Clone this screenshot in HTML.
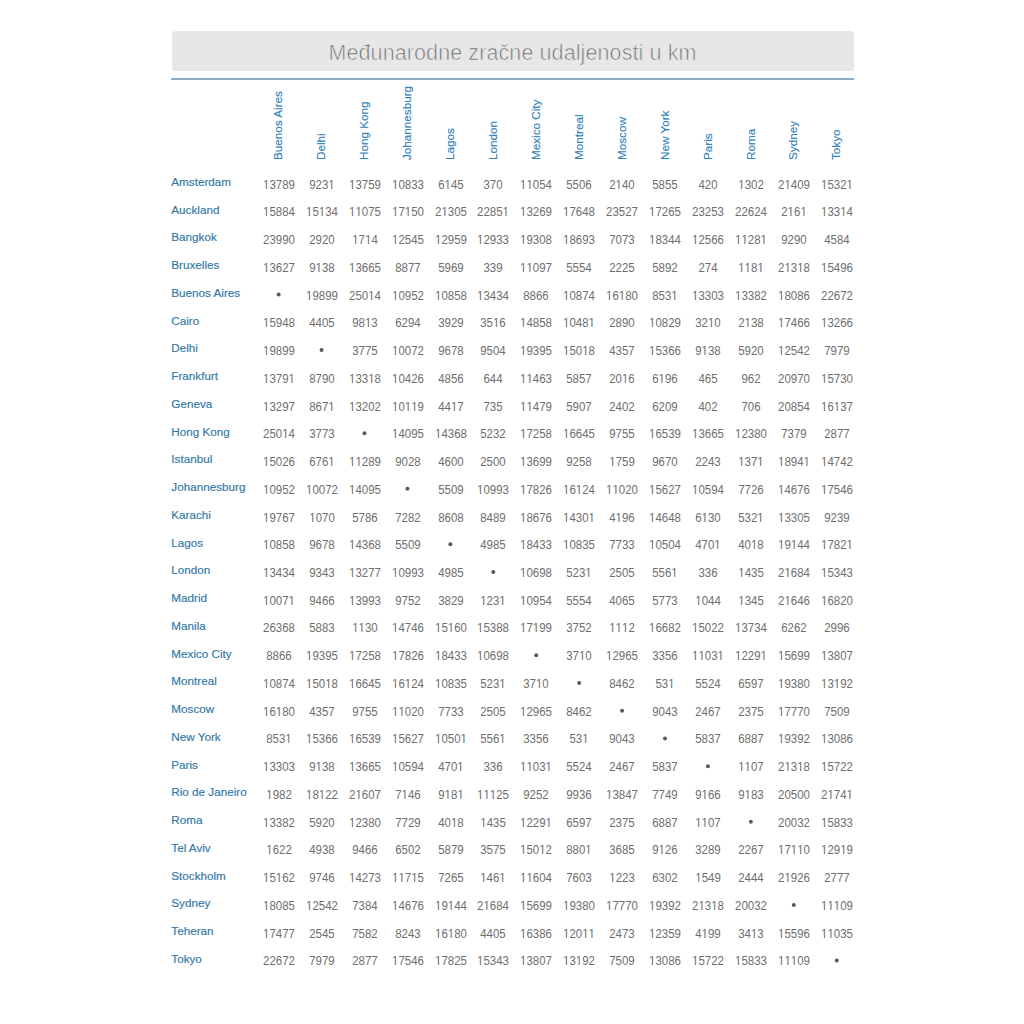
<!DOCTYPE html><html><head><meta charset="utf-8"><style>
html,body{margin:0;padding:0;background:#fff;width:1024px;height:1024px;overflow:hidden;}
body{position:relative;font-family:"Liberation Sans",sans-serif;}
.a{position:absolute;white-space:nowrap;}
.l{position:absolute;white-space:nowrap;font-size:11.70px;line-height:11.70px;color:#2f77a6;transform-origin:0 9.90px;transform:scaleY(1.000);}
.h{position:absolute;white-space:nowrap;font-size:11.70px;line-height:11.70px;color:#3282ba;transform-origin:0 0;transform:rotate(-90deg) translateY(9.90px) scaleY(1.000) translateY(-9.90px);}
.n{position:absolute;white-space:nowrap;font-size:12.00px;line-height:12.00px;color:#6e6e6e;width:60px;text-align:center;transform-origin:50% 0;transform:scaleX(0.9550);}
.n b{font-weight:normal;display:inline-block;clip-path:polygon(-1px -2px,7.674px -2px,7.674px 9.000px,4.078px 9.000px,4.078px 14.000px,3.018px 14.000px,3.018px 9.000px,-1px 9.000px);}
.d{position:absolute;left:0;top:0;width:4.30px;height:4.30px;border-radius:50%;background:#5a5a5a;}
#w{position:absolute;left:0;top:0;width:1024px;height:1024px;}
.l,.h{-webkit-text-stroke:0.15px currentColor;}
</style></head><body><div id="w">
<div class="a" style="left:171.50px;top:31.40px;width:682.00px;height:39.20px;background:#e7e7e7;border-radius:3.5px;"></div>
<div class="a" style="left:171.50px;width:682.00px;top:43.30px;font-size:21.50px;line-height:21.50px;text-align:center;color:#6a6a6a;letter-spacing:0.10px;-webkit-text-stroke:0.7px #e7e7e7;">Međunarodne zračne udaljenosti u km</div>
<div class="a" style="left:171.20px;top:78.00px;width:682.60px;height:1.90px;background:#8badc2;"></div>
<div class="h" style="left:272.30px;top:159.70px;">Buenos Aires</div>
<div class="h" style="left:315.23px;top:159.70px;">Delhi</div>
<div class="h" style="left:358.16px;top:159.70px;">Hong Kong</div>
<div class="h" style="left:401.09px;top:159.70px;">Johannesburg</div>
<div class="h" style="left:444.02px;top:159.70px;">Lagos</div>
<div class="h" style="left:486.95px;top:159.70px;">London</div>
<div class="h" style="left:529.88px;top:159.70px;">Mexico City</div>
<div class="h" style="left:572.81px;top:159.70px;">Montreal</div>
<div class="h" style="left:615.74px;top:159.70px;">Moscow</div>
<div class="h" style="left:658.67px;top:159.70px;">New York</div>
<div class="h" style="left:701.60px;top:159.70px;">Paris</div>
<div class="h" style="left:744.53px;top:159.70px;">Roma</div>
<div class="h" style="left:787.46px;top:159.70px;">Sydney</div>
<div class="h" style="left:830.39px;top:159.70px;">Tokyo</div>
<div class="l" style="left:171.30px;top:176.00px;">Amsterdam</div>
<div class="n" style="left:248.80px;top:179px;"><b>1</b>3789</div>
<div class="n" style="left:291.73px;top:179px;">923<b>1</b></div>
<div class="n" style="left:334.66px;top:179px;"><b>1</b>3759</div>
<div class="n" style="left:377.59px;top:179px;"><b>1</b>0833</div>
<div class="n" style="left:420.52px;top:179px;">6<b>1</b>45</div>
<div class="n" style="left:463.45px;top:179px;">370</div>
<div class="n" style="left:506.38px;top:179px;"><b>1</b><b>1</b>054</div>
<div class="n" style="left:549.31px;top:179px;">5506</div>
<div class="n" style="left:592.24px;top:179px;">2<b>1</b>40</div>
<div class="n" style="left:635.17px;top:179px;">5855</div>
<div class="n" style="left:678.10px;top:179px;">420</div>
<div class="n" style="left:721.03px;top:179px;"><b>1</b>302</div>
<div class="n" style="left:763.96px;top:179px;">2<b>1</b>409</div>
<div class="n" style="left:806.89px;top:179px;"><b>1</b>532<b>1</b></div>
<div class="l" style="left:171.30px;top:203.74px;">Auckland</div>
<div class="n" style="left:248.80px;top:206px;"><b>1</b>5884</div>
<div class="n" style="left:291.73px;top:206px;"><b>1</b>5<b>1</b>34</div>
<div class="n" style="left:334.66px;top:206px;"><b>1</b><b>1</b>075</div>
<div class="n" style="left:377.59px;top:206px;"><b>1</b>7<b>1</b>50</div>
<div class="n" style="left:420.52px;top:206px;">2<b>1</b>305</div>
<div class="n" style="left:463.45px;top:206px;">2285<b>1</b></div>
<div class="n" style="left:506.38px;top:206px;"><b>1</b>3269</div>
<div class="n" style="left:549.31px;top:206px;"><b>1</b>7648</div>
<div class="n" style="left:592.24px;top:206px;">23527</div>
<div class="n" style="left:635.17px;top:206px;"><b>1</b>7265</div>
<div class="n" style="left:678.10px;top:206px;">23253</div>
<div class="n" style="left:721.03px;top:206px;">22624</div>
<div class="n" style="left:763.96px;top:206px;">2<b>1</b>6<b>1</b></div>
<div class="n" style="left:806.89px;top:206px;"><b>1</b>33<b>1</b>4</div>
<div class="l" style="left:171.30px;top:231.48px;">Bangkok</div>
<div class="n" style="left:248.80px;top:234px;">23990</div>
<div class="n" style="left:291.73px;top:234px;">2920</div>
<div class="n" style="left:334.66px;top:234px;"><b>1</b>7<b>1</b>4</div>
<div class="n" style="left:377.59px;top:234px;"><b>1</b>2545</div>
<div class="n" style="left:420.52px;top:234px;"><b>1</b>2959</div>
<div class="n" style="left:463.45px;top:234px;"><b>1</b>2933</div>
<div class="n" style="left:506.38px;top:234px;"><b>1</b>9308</div>
<div class="n" style="left:549.31px;top:234px;"><b>1</b>8693</div>
<div class="n" style="left:592.24px;top:234px;">7073</div>
<div class="n" style="left:635.17px;top:234px;"><b>1</b>8344</div>
<div class="n" style="left:678.10px;top:234px;"><b>1</b>2566</div>
<div class="n" style="left:721.03px;top:234px;"><b>1</b><b>1</b>28<b>1</b></div>
<div class="n" style="left:763.96px;top:234px;">9290</div>
<div class="n" style="left:806.89px;top:234px;">4584</div>
<div class="l" style="left:171.30px;top:259.22px;">Bruxelles</div>
<div class="n" style="left:248.80px;top:262px;"><b>1</b>3627</div>
<div class="n" style="left:291.73px;top:262px;">9<b>1</b>38</div>
<div class="n" style="left:334.66px;top:262px;"><b>1</b>3665</div>
<div class="n" style="left:377.59px;top:262px;">8877</div>
<div class="n" style="left:420.52px;top:262px;">5969</div>
<div class="n" style="left:463.45px;top:262px;">339</div>
<div class="n" style="left:506.38px;top:262px;"><b>1</b><b>1</b>097</div>
<div class="n" style="left:549.31px;top:262px;">5554</div>
<div class="n" style="left:592.24px;top:262px;">2225</div>
<div class="n" style="left:635.17px;top:262px;">5892</div>
<div class="n" style="left:678.10px;top:262px;">274</div>
<div class="n" style="left:721.03px;top:262px;"><b>1</b><b>1</b>8<b>1</b></div>
<div class="n" style="left:763.96px;top:262px;">2<b>1</b>3<b>1</b>8</div>
<div class="n" style="left:806.89px;top:262px;"><b>1</b>5496</div>
<div class="l" style="left:171.30px;top:286.97px;">Buenos Aires</div>
<div class="d" style="transform:translate(276.65px,292.62px);"></div>
<div class="n" style="left:291.73px;top:290px;"><b>1</b>9899</div>
<div class="n" style="left:334.66px;top:290px;">250<b>1</b>4</div>
<div class="n" style="left:377.59px;top:290px;"><b>1</b>0952</div>
<div class="n" style="left:420.52px;top:290px;"><b>1</b>0858</div>
<div class="n" style="left:463.45px;top:290px;"><b>1</b>3434</div>
<div class="n" style="left:506.38px;top:290px;">8866</div>
<div class="n" style="left:549.31px;top:290px;"><b>1</b>0874</div>
<div class="n" style="left:592.24px;top:290px;"><b>1</b>6<b>1</b>80</div>
<div class="n" style="left:635.17px;top:290px;">853<b>1</b></div>
<div class="n" style="left:678.10px;top:290px;"><b>1</b>3303</div>
<div class="n" style="left:721.03px;top:290px;"><b>1</b>3382</div>
<div class="n" style="left:763.96px;top:290px;"><b>1</b>8086</div>
<div class="n" style="left:806.89px;top:290px;">22672</div>
<div class="l" style="left:171.30px;top:314.71px;">Cairo</div>
<div class="n" style="left:248.80px;top:317px;"><b>1</b>5948</div>
<div class="n" style="left:291.73px;top:317px;">4405</div>
<div class="n" style="left:334.66px;top:317px;">98<b>1</b>3</div>
<div class="n" style="left:377.59px;top:317px;">6294</div>
<div class="n" style="left:420.52px;top:317px;">3929</div>
<div class="n" style="left:463.45px;top:317px;">35<b>1</b>6</div>
<div class="n" style="left:506.38px;top:317px;"><b>1</b>4858</div>
<div class="n" style="left:549.31px;top:317px;"><b>1</b>048<b>1</b></div>
<div class="n" style="left:592.24px;top:317px;">2890</div>
<div class="n" style="left:635.17px;top:317px;"><b>1</b>0829</div>
<div class="n" style="left:678.10px;top:317px;">32<b>1</b>0</div>
<div class="n" style="left:721.03px;top:317px;">2<b>1</b>38</div>
<div class="n" style="left:763.96px;top:317px;"><b>1</b>7466</div>
<div class="n" style="left:806.89px;top:317px;"><b>1</b>3266</div>
<div class="l" style="left:171.30px;top:342.45px;">Delhi</div>
<div class="n" style="left:248.80px;top:345px;"><b>1</b>9899</div>
<div class="d" style="transform:translate(319.58px,348.11px);"></div>
<div class="n" style="left:334.66px;top:345px;">3775</div>
<div class="n" style="left:377.59px;top:345px;"><b>1</b>0072</div>
<div class="n" style="left:420.52px;top:345px;">9678</div>
<div class="n" style="left:463.45px;top:345px;">9504</div>
<div class="n" style="left:506.38px;top:345px;"><b>1</b>9395</div>
<div class="n" style="left:549.31px;top:345px;"><b>1</b>50<b>1</b>8</div>
<div class="n" style="left:592.24px;top:345px;">4357</div>
<div class="n" style="left:635.17px;top:345px;"><b>1</b>5366</div>
<div class="n" style="left:678.10px;top:345px;">9<b>1</b>38</div>
<div class="n" style="left:721.03px;top:345px;">5920</div>
<div class="n" style="left:763.96px;top:345px;"><b>1</b>2542</div>
<div class="n" style="left:806.89px;top:345px;">7979</div>
<div class="l" style="left:171.30px;top:370.20px;">Frankfurt</div>
<div class="n" style="left:248.80px;top:373px;"><b>1</b>379<b>1</b></div>
<div class="n" style="left:291.73px;top:373px;">8790</div>
<div class="n" style="left:334.66px;top:373px;"><b>1</b>33<b>1</b>8</div>
<div class="n" style="left:377.59px;top:373px;"><b>1</b>0426</div>
<div class="n" style="left:420.52px;top:373px;">4856</div>
<div class="n" style="left:463.45px;top:373px;">644</div>
<div class="n" style="left:506.38px;top:373px;"><b>1</b><b>1</b>463</div>
<div class="n" style="left:549.31px;top:373px;">5857</div>
<div class="n" style="left:592.24px;top:373px;">20<b>1</b>6</div>
<div class="n" style="left:635.17px;top:373px;">6<b>1</b>96</div>
<div class="n" style="left:678.10px;top:373px;">465</div>
<div class="n" style="left:721.03px;top:373px;">962</div>
<div class="n" style="left:763.96px;top:373px;">20970</div>
<div class="n" style="left:806.89px;top:373px;"><b>1</b>5730</div>
<div class="l" style="left:171.30px;top:397.94px;">Geneva</div>
<div class="n" style="left:248.80px;top:401px;"><b>1</b>3297</div>
<div class="n" style="left:291.73px;top:401px;">867<b>1</b></div>
<div class="n" style="left:334.66px;top:401px;"><b>1</b>3202</div>
<div class="n" style="left:377.59px;top:401px;"><b>1</b>0<b>1</b><b>1</b>9</div>
<div class="n" style="left:420.52px;top:401px;">44<b>1</b>7</div>
<div class="n" style="left:463.45px;top:401px;">735</div>
<div class="n" style="left:506.38px;top:401px;"><b>1</b><b>1</b>479</div>
<div class="n" style="left:549.31px;top:401px;">5907</div>
<div class="n" style="left:592.24px;top:401px;">2402</div>
<div class="n" style="left:635.17px;top:401px;">6209</div>
<div class="n" style="left:678.10px;top:401px;">402</div>
<div class="n" style="left:721.03px;top:401px;">706</div>
<div class="n" style="left:763.96px;top:401px;">20854</div>
<div class="n" style="left:806.89px;top:401px;"><b>1</b>6<b>1</b>37</div>
<div class="l" style="left:171.30px;top:425.68px;">Hong Kong</div>
<div class="n" style="left:248.80px;top:428px;">250<b>1</b>4</div>
<div class="n" style="left:291.73px;top:428px;">3773</div>
<div class="d" style="transform:translate(362.51px,431.34px);"></div>
<div class="n" style="left:377.59px;top:428px;"><b>1</b>4095</div>
<div class="n" style="left:420.52px;top:428px;"><b>1</b>4368</div>
<div class="n" style="left:463.45px;top:428px;">5232</div>
<div class="n" style="left:506.38px;top:428px;"><b>1</b>7258</div>
<div class="n" style="left:549.31px;top:428px;"><b>1</b>6645</div>
<div class="n" style="left:592.24px;top:428px;">9755</div>
<div class="n" style="left:635.17px;top:428px;"><b>1</b>6539</div>
<div class="n" style="left:678.10px;top:428px;"><b>1</b>3665</div>
<div class="n" style="left:721.03px;top:428px;"><b>1</b>2380</div>
<div class="n" style="left:763.96px;top:428px;">7379</div>
<div class="n" style="left:806.89px;top:428px;">2877</div>
<div class="l" style="left:171.30px;top:453.43px;">Istanbul</div>
<div class="n" style="left:248.80px;top:456px;"><b>1</b>5026</div>
<div class="n" style="left:291.73px;top:456px;">676<b>1</b></div>
<div class="n" style="left:334.66px;top:456px;"><b>1</b><b>1</b>289</div>
<div class="n" style="left:377.59px;top:456px;">9028</div>
<div class="n" style="left:420.52px;top:456px;">4600</div>
<div class="n" style="left:463.45px;top:456px;">2500</div>
<div class="n" style="left:506.38px;top:456px;"><b>1</b>3699</div>
<div class="n" style="left:549.31px;top:456px;">9258</div>
<div class="n" style="left:592.24px;top:456px;"><b>1</b>759</div>
<div class="n" style="left:635.17px;top:456px;">9670</div>
<div class="n" style="left:678.10px;top:456px;">2243</div>
<div class="n" style="left:721.03px;top:456px;"><b>1</b>37<b>1</b></div>
<div class="n" style="left:763.96px;top:456px;"><b>1</b>894<b>1</b></div>
<div class="n" style="left:806.89px;top:456px;"><b>1</b>4742</div>
<div class="l" style="left:171.30px;top:481.17px;">Johannesburg</div>
<div class="n" style="left:248.80px;top:484px;"><b>1</b>0952</div>
<div class="n" style="left:291.73px;top:484px;"><b>1</b>0072</div>
<div class="n" style="left:334.66px;top:484px;"><b>1</b>4095</div>
<div class="d" style="transform:translate(405.44px,486.82px);"></div>
<div class="n" style="left:420.52px;top:484px;">5509</div>
<div class="n" style="left:463.45px;top:484px;"><b>1</b>0993</div>
<div class="n" style="left:506.38px;top:484px;"><b>1</b>7826</div>
<div class="n" style="left:549.31px;top:484px;"><b>1</b>6<b>1</b>24</div>
<div class="n" style="left:592.24px;top:484px;"><b>1</b><b>1</b>020</div>
<div class="n" style="left:635.17px;top:484px;"><b>1</b>5627</div>
<div class="n" style="left:678.10px;top:484px;"><b>1</b>0594</div>
<div class="n" style="left:721.03px;top:484px;">7726</div>
<div class="n" style="left:763.96px;top:484px;"><b>1</b>4676</div>
<div class="n" style="left:806.89px;top:484px;"><b>1</b>7546</div>
<div class="l" style="left:171.30px;top:508.91px;">Karachi</div>
<div class="n" style="left:248.80px;top:512px;"><b>1</b>9767</div>
<div class="n" style="left:291.73px;top:512px;"><b>1</b>070</div>
<div class="n" style="left:334.66px;top:512px;">5786</div>
<div class="n" style="left:377.59px;top:512px;">7282</div>
<div class="n" style="left:420.52px;top:512px;">8608</div>
<div class="n" style="left:463.45px;top:512px;">8489</div>
<div class="n" style="left:506.38px;top:512px;"><b>1</b>8676</div>
<div class="n" style="left:549.31px;top:512px;"><b>1</b>430<b>1</b></div>
<div class="n" style="left:592.24px;top:512px;">4<b>1</b>96</div>
<div class="n" style="left:635.17px;top:512px;"><b>1</b>4648</div>
<div class="n" style="left:678.10px;top:512px;">6<b>1</b>30</div>
<div class="n" style="left:721.03px;top:512px;">532<b>1</b></div>
<div class="n" style="left:763.96px;top:512px;"><b>1</b>3305</div>
<div class="n" style="left:806.89px;top:512px;">9239</div>
<div class="l" style="left:171.30px;top:536.65px;">Lagos</div>
<div class="n" style="left:248.80px;top:539px;"><b>1</b>0858</div>
<div class="n" style="left:291.73px;top:539px;">9678</div>
<div class="n" style="left:334.66px;top:539px;"><b>1</b>4368</div>
<div class="n" style="left:377.59px;top:539px;">5509</div>
<div class="d" style="transform:translate(448.37px,542.31px);"></div>
<div class="n" style="left:463.45px;top:539px;">4985</div>
<div class="n" style="left:506.38px;top:539px;"><b>1</b>8433</div>
<div class="n" style="left:549.31px;top:539px;"><b>1</b>0835</div>
<div class="n" style="left:592.24px;top:539px;">7733</div>
<div class="n" style="left:635.17px;top:539px;"><b>1</b>0504</div>
<div class="n" style="left:678.10px;top:539px;">470<b>1</b></div>
<div class="n" style="left:721.03px;top:539px;">40<b>1</b>8</div>
<div class="n" style="left:763.96px;top:539px;"><b>1</b>9<b>1</b>44</div>
<div class="n" style="left:806.89px;top:539px;"><b>1</b>782<b>1</b></div>
<div class="l" style="left:171.30px;top:564.40px;">London</div>
<div class="n" style="left:248.80px;top:567px;"><b>1</b>3434</div>
<div class="n" style="left:291.73px;top:567px;">9343</div>
<div class="n" style="left:334.66px;top:567px;"><b>1</b>3277</div>
<div class="n" style="left:377.59px;top:567px;"><b>1</b>0993</div>
<div class="n" style="left:420.52px;top:567px;">4985</div>
<div class="d" style="transform:translate(491.30px,570.05px);"></div>
<div class="n" style="left:506.38px;top:567px;"><b>1</b>0698</div>
<div class="n" style="left:549.31px;top:567px;">523<b>1</b></div>
<div class="n" style="left:592.24px;top:567px;">2505</div>
<div class="n" style="left:635.17px;top:567px;">556<b>1</b></div>
<div class="n" style="left:678.10px;top:567px;">336</div>
<div class="n" style="left:721.03px;top:567px;"><b>1</b>435</div>
<div class="n" style="left:763.96px;top:567px;">2<b>1</b>684</div>
<div class="n" style="left:806.89px;top:567px;"><b>1</b>5343</div>
<div class="l" style="left:171.30px;top:592.14px;">Madrid</div>
<div class="n" style="left:248.80px;top:595px;"><b>1</b>007<b>1</b></div>
<div class="n" style="left:291.73px;top:595px;">9466</div>
<div class="n" style="left:334.66px;top:595px;"><b>1</b>3993</div>
<div class="n" style="left:377.59px;top:595px;">9752</div>
<div class="n" style="left:420.52px;top:595px;">3829</div>
<div class="n" style="left:463.45px;top:595px;"><b>1</b>23<b>1</b></div>
<div class="n" style="left:506.38px;top:595px;"><b>1</b>0954</div>
<div class="n" style="left:549.31px;top:595px;">5554</div>
<div class="n" style="left:592.24px;top:595px;">4065</div>
<div class="n" style="left:635.17px;top:595px;">5773</div>
<div class="n" style="left:678.10px;top:595px;"><b>1</b>044</div>
<div class="n" style="left:721.03px;top:595px;"><b>1</b>345</div>
<div class="n" style="left:763.96px;top:595px;">2<b>1</b>646</div>
<div class="n" style="left:806.89px;top:595px;"><b>1</b>6820</div>
<div class="l" style="left:171.30px;top:619.88px;">Manila</div>
<div class="n" style="left:248.80px;top:622px;">26368</div>
<div class="n" style="left:291.73px;top:622px;">5883</div>
<div class="n" style="left:334.66px;top:622px;"><b>1</b><b>1</b>30</div>
<div class="n" style="left:377.59px;top:622px;"><b>1</b>4746</div>
<div class="n" style="left:420.52px;top:622px;"><b>1</b>5<b>1</b>60</div>
<div class="n" style="left:463.45px;top:622px;"><b>1</b>5388</div>
<div class="n" style="left:506.38px;top:622px;"><b>1</b>7<b>1</b>99</div>
<div class="n" style="left:549.31px;top:622px;">3752</div>
<div class="n" style="left:592.24px;top:622px;"><b>1</b><b>1</b><b>1</b>2</div>
<div class="n" style="left:635.17px;top:622px;"><b>1</b>6682</div>
<div class="n" style="left:678.10px;top:622px;"><b>1</b>5022</div>
<div class="n" style="left:721.03px;top:622px;"><b>1</b>3734</div>
<div class="n" style="left:763.96px;top:622px;">6262</div>
<div class="n" style="left:806.89px;top:622px;">2996</div>
<div class="l" style="left:171.30px;top:647.63px;">Mexico City</div>
<div class="n" style="left:248.80px;top:650px;">8866</div>
<div class="n" style="left:291.73px;top:650px;"><b>1</b>9395</div>
<div class="n" style="left:334.66px;top:650px;"><b>1</b>7258</div>
<div class="n" style="left:377.59px;top:650px;"><b>1</b>7826</div>
<div class="n" style="left:420.52px;top:650px;"><b>1</b>8433</div>
<div class="n" style="left:463.45px;top:650px;"><b>1</b>0698</div>
<div class="d" style="transform:translate(534.23px,653.28px);"></div>
<div class="n" style="left:549.31px;top:650px;">37<b>1</b>0</div>
<div class="n" style="left:592.24px;top:650px;"><b>1</b>2965</div>
<div class="n" style="left:635.17px;top:650px;">3356</div>
<div class="n" style="left:678.10px;top:650px;"><b>1</b><b>1</b>03<b>1</b></div>
<div class="n" style="left:721.03px;top:650px;"><b>1</b>229<b>1</b></div>
<div class="n" style="left:763.96px;top:650px;"><b>1</b>5699</div>
<div class="n" style="left:806.89px;top:650px;"><b>1</b>3807</div>
<div class="l" style="left:171.30px;top:675.37px;">Montreal</div>
<div class="n" style="left:248.80px;top:678px;"><b>1</b>0874</div>
<div class="n" style="left:291.73px;top:678px;"><b>1</b>50<b>1</b>8</div>
<div class="n" style="left:334.66px;top:678px;"><b>1</b>6645</div>
<div class="n" style="left:377.59px;top:678px;"><b>1</b>6<b>1</b>24</div>
<div class="n" style="left:420.52px;top:678px;"><b>1</b>0835</div>
<div class="n" style="left:463.45px;top:678px;">523<b>1</b></div>
<div class="n" style="left:506.38px;top:678px;">37<b>1</b>0</div>
<div class="d" style="transform:translate(577.16px,681.02px);"></div>
<div class="n" style="left:592.24px;top:678px;">8462</div>
<div class="n" style="left:635.17px;top:678px;">53<b>1</b></div>
<div class="n" style="left:678.10px;top:678px;">5524</div>
<div class="n" style="left:721.03px;top:678px;">6597</div>
<div class="n" style="left:763.96px;top:678px;"><b>1</b>9380</div>
<div class="n" style="left:806.89px;top:678px;"><b>1</b>3<b>1</b>92</div>
<div class="l" style="left:171.30px;top:703.11px;">Moscow</div>
<div class="n" style="left:248.80px;top:706px;"><b>1</b>6<b>1</b>80</div>
<div class="n" style="left:291.73px;top:706px;">4357</div>
<div class="n" style="left:334.66px;top:706px;">9755</div>
<div class="n" style="left:377.59px;top:706px;"><b>1</b><b>1</b>020</div>
<div class="n" style="left:420.52px;top:706px;">7733</div>
<div class="n" style="left:463.45px;top:706px;">2505</div>
<div class="n" style="left:506.38px;top:706px;"><b>1</b>2965</div>
<div class="n" style="left:549.31px;top:706px;">8462</div>
<div class="d" style="transform:translate(620.09px,708.77px);"></div>
<div class="n" style="left:635.17px;top:706px;">9043</div>
<div class="n" style="left:678.10px;top:706px;">2467</div>
<div class="n" style="left:721.03px;top:706px;">2375</div>
<div class="n" style="left:763.96px;top:706px;"><b>1</b>7770</div>
<div class="n" style="left:806.89px;top:706px;">7509</div>
<div class="l" style="left:171.30px;top:730.86px;">New York</div>
<div class="n" style="left:248.80px;top:733px;">853<b>1</b></div>
<div class="n" style="left:291.73px;top:733px;"><b>1</b>5366</div>
<div class="n" style="left:334.66px;top:733px;"><b>1</b>6539</div>
<div class="n" style="left:377.59px;top:733px;"><b>1</b>5627</div>
<div class="n" style="left:420.52px;top:733px;"><b>1</b>050<b>1</b></div>
<div class="n" style="left:463.45px;top:733px;">556<b>1</b></div>
<div class="n" style="left:506.38px;top:733px;">3356</div>
<div class="n" style="left:549.31px;top:733px;">53<b>1</b></div>
<div class="n" style="left:592.24px;top:733px;">9043</div>
<div class="d" style="transform:translate(663.02px,736.51px);"></div>
<div class="n" style="left:678.10px;top:733px;">5837</div>
<div class="n" style="left:721.03px;top:733px;">6887</div>
<div class="n" style="left:763.96px;top:733px;"><b>1</b>9392</div>
<div class="n" style="left:806.89px;top:733px;"><b>1</b>3086</div>
<div class="l" style="left:171.30px;top:758.60px;">Paris</div>
<div class="n" style="left:248.80px;top:761px;"><b>1</b>3303</div>
<div class="n" style="left:291.73px;top:761px;">9<b>1</b>38</div>
<div class="n" style="left:334.66px;top:761px;"><b>1</b>3665</div>
<div class="n" style="left:377.59px;top:761px;"><b>1</b>0594</div>
<div class="n" style="left:420.52px;top:761px;">470<b>1</b></div>
<div class="n" style="left:463.45px;top:761px;">336</div>
<div class="n" style="left:506.38px;top:761px;"><b>1</b><b>1</b>03<b>1</b></div>
<div class="n" style="left:549.31px;top:761px;">5524</div>
<div class="n" style="left:592.24px;top:761px;">2467</div>
<div class="n" style="left:635.17px;top:761px;">5837</div>
<div class="d" style="transform:translate(705.95px,764.25px);"></div>
<div class="n" style="left:721.03px;top:761px;"><b>1</b><b>1</b>07</div>
<div class="n" style="left:763.96px;top:761px;">2<b>1</b>3<b>1</b>8</div>
<div class="n" style="left:806.89px;top:761px;"><b>1</b>5722</div>
<div class="l" style="left:171.30px;top:786.34px;">Rio de Janeiro</div>
<div class="n" style="left:248.80px;top:789px;"><b>1</b>982</div>
<div class="n" style="left:291.73px;top:789px;"><b>1</b>8<b>1</b>22</div>
<div class="n" style="left:334.66px;top:789px;">2<b>1</b>607</div>
<div class="n" style="left:377.59px;top:789px;">7<b>1</b>46</div>
<div class="n" style="left:420.52px;top:789px;">9<b>1</b>8<b>1</b></div>
<div class="n" style="left:463.45px;top:789px;"><b>1</b><b>1</b><b>1</b>25</div>
<div class="n" style="left:506.38px;top:789px;">9252</div>
<div class="n" style="left:549.31px;top:789px;">9936</div>
<div class="n" style="left:592.24px;top:789px;"><b>1</b>3847</div>
<div class="n" style="left:635.17px;top:789px;">7749</div>
<div class="n" style="left:678.10px;top:789px;">9<b>1</b>66</div>
<div class="n" style="left:721.03px;top:789px;">9<b>1</b>83</div>
<div class="n" style="left:763.96px;top:789px;">20500</div>
<div class="n" style="left:806.89px;top:789px;">2<b>1</b>74<b>1</b></div>
<div class="l" style="left:171.30px;top:814.08px;">Roma</div>
<div class="n" style="left:248.80px;top:817px;"><b>1</b>3382</div>
<div class="n" style="left:291.73px;top:817px;">5920</div>
<div class="n" style="left:334.66px;top:817px;"><b>1</b>2380</div>
<div class="n" style="left:377.59px;top:817px;">7729</div>
<div class="n" style="left:420.52px;top:817px;">40<b>1</b>8</div>
<div class="n" style="left:463.45px;top:817px;"><b>1</b>435</div>
<div class="n" style="left:506.38px;top:817px;"><b>1</b>229<b>1</b></div>
<div class="n" style="left:549.31px;top:817px;">6597</div>
<div class="n" style="left:592.24px;top:817px;">2375</div>
<div class="n" style="left:635.17px;top:817px;">6887</div>
<div class="n" style="left:678.10px;top:817px;"><b>1</b><b>1</b>07</div>
<div class="d" style="transform:translate(748.88px,819.74px);"></div>
<div class="n" style="left:763.96px;top:817px;">20032</div>
<div class="n" style="left:806.89px;top:817px;"><b>1</b>5833</div>
<div class="l" style="left:171.30px;top:841.83px;">Tel Aviv</div>
<div class="n" style="left:248.80px;top:844px;"><b>1</b>622</div>
<div class="n" style="left:291.73px;top:844px;">4938</div>
<div class="n" style="left:334.66px;top:844px;">9466</div>
<div class="n" style="left:377.59px;top:844px;">6502</div>
<div class="n" style="left:420.52px;top:844px;">5879</div>
<div class="n" style="left:463.45px;top:844px;">3575</div>
<div class="n" style="left:506.38px;top:844px;"><b>1</b>50<b>1</b>2</div>
<div class="n" style="left:549.31px;top:844px;">880<b>1</b></div>
<div class="n" style="left:592.24px;top:844px;">3685</div>
<div class="n" style="left:635.17px;top:844px;">9<b>1</b>26</div>
<div class="n" style="left:678.10px;top:844px;">3289</div>
<div class="n" style="left:721.03px;top:844px;">2267</div>
<div class="n" style="left:763.96px;top:844px;"><b>1</b>7<b>1</b><b>1</b>0</div>
<div class="n" style="left:806.89px;top:844px;"><b>1</b>29<b>1</b>9</div>
<div class="l" style="left:171.30px;top:869.57px;">Stockholm</div>
<div class="n" style="left:248.80px;top:872px;"><b>1</b>5<b>1</b>62</div>
<div class="n" style="left:291.73px;top:872px;">9746</div>
<div class="n" style="left:334.66px;top:872px;"><b>1</b>4273</div>
<div class="n" style="left:377.59px;top:872px;"><b>1</b><b>1</b>7<b>1</b>5</div>
<div class="n" style="left:420.52px;top:872px;">7265</div>
<div class="n" style="left:463.45px;top:872px;"><b>1</b>46<b>1</b></div>
<div class="n" style="left:506.38px;top:872px;"><b>1</b><b>1</b>604</div>
<div class="n" style="left:549.31px;top:872px;">7603</div>
<div class="n" style="left:592.24px;top:872px;"><b>1</b>223</div>
<div class="n" style="left:635.17px;top:872px;">6302</div>
<div class="n" style="left:678.10px;top:872px;"><b>1</b>549</div>
<div class="n" style="left:721.03px;top:872px;">2444</div>
<div class="n" style="left:763.96px;top:872px;">2<b>1</b>926</div>
<div class="n" style="left:806.89px;top:872px;">2777</div>
<div class="l" style="left:171.30px;top:897.31px;">Sydney</div>
<div class="n" style="left:248.80px;top:900px;"><b>1</b>8085</div>
<div class="n" style="left:291.73px;top:900px;"><b>1</b>2542</div>
<div class="n" style="left:334.66px;top:900px;">7384</div>
<div class="n" style="left:377.59px;top:900px;"><b>1</b>4676</div>
<div class="n" style="left:420.52px;top:900px;"><b>1</b>9<b>1</b>44</div>
<div class="n" style="left:463.45px;top:900px;">2<b>1</b>684</div>
<div class="n" style="left:506.38px;top:900px;"><b>1</b>5699</div>
<div class="n" style="left:549.31px;top:900px;"><b>1</b>9380</div>
<div class="n" style="left:592.24px;top:900px;"><b>1</b>7770</div>
<div class="n" style="left:635.17px;top:900px;"><b>1</b>9392</div>
<div class="n" style="left:678.10px;top:900px;">2<b>1</b>3<b>1</b>8</div>
<div class="n" style="left:721.03px;top:900px;">20032</div>
<div class="d" style="transform:translate(791.81px,902.97px);"></div>
<div class="n" style="left:806.89px;top:900px;"><b>1</b><b>1</b><b>1</b>09</div>
<div class="l" style="left:171.30px;top:925.06px;">Teheran</div>
<div class="n" style="left:248.80px;top:928px;"><b>1</b>7477</div>
<div class="n" style="left:291.73px;top:928px;">2545</div>
<div class="n" style="left:334.66px;top:928px;">7582</div>
<div class="n" style="left:377.59px;top:928px;">8243</div>
<div class="n" style="left:420.52px;top:928px;"><b>1</b>6<b>1</b>80</div>
<div class="n" style="left:463.45px;top:928px;">4405</div>
<div class="n" style="left:506.38px;top:928px;"><b>1</b>6386</div>
<div class="n" style="left:549.31px;top:928px;"><b>1</b>20<b>1</b><b>1</b></div>
<div class="n" style="left:592.24px;top:928px;">2473</div>
<div class="n" style="left:635.17px;top:928px;"><b>1</b>2359</div>
<div class="n" style="left:678.10px;top:928px;">4<b>1</b>99</div>
<div class="n" style="left:721.03px;top:928px;">34<b>1</b>3</div>
<div class="n" style="left:763.96px;top:928px;"><b>1</b>5596</div>
<div class="n" style="left:806.89px;top:928px;"><b>1</b><b>1</b>035</div>
<div class="l" style="left:171.30px;top:952.80px;">Tokyo</div>
<div class="n" style="left:248.80px;top:955px;">22672</div>
<div class="n" style="left:291.73px;top:955px;">7979</div>
<div class="n" style="left:334.66px;top:955px;">2877</div>
<div class="n" style="left:377.59px;top:955px;"><b>1</b>7546</div>
<div class="n" style="left:420.52px;top:955px;"><b>1</b>7825</div>
<div class="n" style="left:463.45px;top:955px;"><b>1</b>5343</div>
<div class="n" style="left:506.38px;top:955px;"><b>1</b>3807</div>
<div class="n" style="left:549.31px;top:955px;"><b>1</b>3<b>1</b>92</div>
<div class="n" style="left:592.24px;top:955px;">7509</div>
<div class="n" style="left:635.17px;top:955px;"><b>1</b>3086</div>
<div class="n" style="left:678.10px;top:955px;"><b>1</b>5722</div>
<div class="n" style="left:721.03px;top:955px;"><b>1</b>5833</div>
<div class="n" style="left:763.96px;top:955px;"><b>1</b><b>1</b><b>1</b>09</div>
<div class="d" style="transform:translate(834.74px,958.45px);"></div>
</div></body></html>
